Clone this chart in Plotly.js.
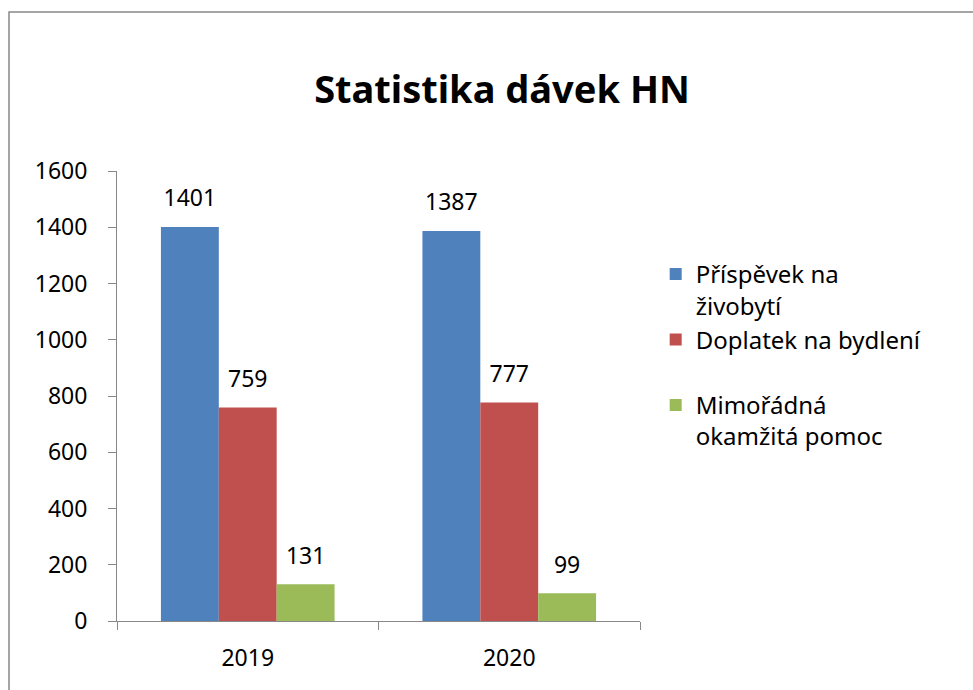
<!DOCTYPE html>
<html>
<head>
<meta charset="utf-8">
<script src="https://cdn.plot.ly/plotly-3.0.1.min.js"></script>
<style>
  html, body { margin: 0; padding: 0; background: #fff; }
  #chart { width: 973px; height: 690px; }
</style>
</head>
<body>
<div id="chart"></div>
<script>
const years = ['2019', '2020'];
const seriesNames = ['Příspěvek na<br>živobytí', 'Doplatek na bydlení<br> ', 'Mimořádná<br>okamžitá pomoc'];
const prispevek = [1401, 1387];
const doplatek = [759, 777];
const mimoradna = [131, 99];
const seriesColors = ['#4F81BD', '#C0504D', '#9BBB59'];
const yTicks = [0, 200, 400, 600, 800, 1000, 1200, 1400, 1600];

const FONT = '"Noto Sans", "Open Sans", sans-serif';
const values = [prispevek, doplatek, mimoradna];

const barTraces = values.map((v, i) => ({
  type: 'bar',
  name: seriesNames[i],
  x: years,
  y: v,
  offsetgroup: String(i),
  marker: { color: seriesColors[i], line: { width: 0 } },
  hoverinfo: 'x+y'
}));

// data labels: invisible markers whose radius sets the label's gap above each bar
const labelTraces = values.map((v, i) => ({
  type: 'scatter',
  mode: 'markers+text',
  x: years,
  y: v,
  offsetgroup: String(i),
  showlegend: false,
  marker: { size: 22, opacity: 0, color: seriesColors[i] },
  text: v.map(String),
  textposition: 'top center',
  cliponaxis: false,
  textfont: { family: FONT, size: 23, color: '#000' },
  hoverinfo: 'skip'
}));

const layout = {
  width: 973,
  height: 690,
  margin: { l: 117, r: 333, t: 171, b: 69 },
  paper_bgcolor: '#fff',
  plot_bgcolor: '#fff',
  font: { family: FONT, size: 23, color: '#000' },
  title: {
    text: '<b>Statistika dávek HN</b>',
    font: { family: FONT, size: 38, color: '#000' },
    x: 502 / 973,
    xanchor: 'center',
    xref: 'container',
    yref: 'container',
    y: 1 - 90 / 690,
    yanchor: 'middle'
  },
  barmode: 'group',
  bargap: 0.336,
  bargroupgap: 0,
  scattermode: 'group',
  scattergap: 0.336,
  showlegend: true,
  legend: {
    x: 1.03,
    xanchor: 'left',
    y: 0.82,
    yanchor: 'top',
    font: { family: FONT, size: 24, color: '#000' },
    valign: 'top',
    itemwidth: 30,
    bgcolor: 'rgba(0,0,0,0)',
    tracegroupgap: 0
  },
  xaxis: {
    type: 'category',
    showline: true,
    linecolor: '#888',
    linewidth: 1,
    ticks: 'outside',
    tickson: 'boundaries',
    ticklen: 8,
    tickcolor: '#888',
    showgrid: false,
    zeroline: false,
    tickfont: { family: FONT, size: 23, color: '#000' },
    ticklabelstandoff: 16
  },
  yaxis: {
    range: [0, 1600],
    tickvals: yTicks,
    ticktext: yTicks.map(String),
    showline: true,
    linecolor: '#888',
    linewidth: 1,
    ticks: 'outside',
    ticklen: 8,
    tickcolor: '#888',
    showgrid: false,
    zeroline: false,
    tickfont: { family: FONT, size: 23, color: '#000' },
    ticklabelstandoff: 16
  },
  shapes: [{
    type: 'rect',
    xref: 'paper', yref: 'paper',
    x0: (9 - 117) / 523, x1: 1.8,
    y0: -0.4, y1: (621 - 12) / 450,
    line: { color: '#888', width: 1.5 },
    fillcolor: 'rgba(0,0,0,0)',
    layer: 'below'
  }]
};

Plotly.newPlot('chart', barTraces.concat(labelTraces), layout, { displayModeBar: false, staticPlot: true });
</script>
</body>
</html>
